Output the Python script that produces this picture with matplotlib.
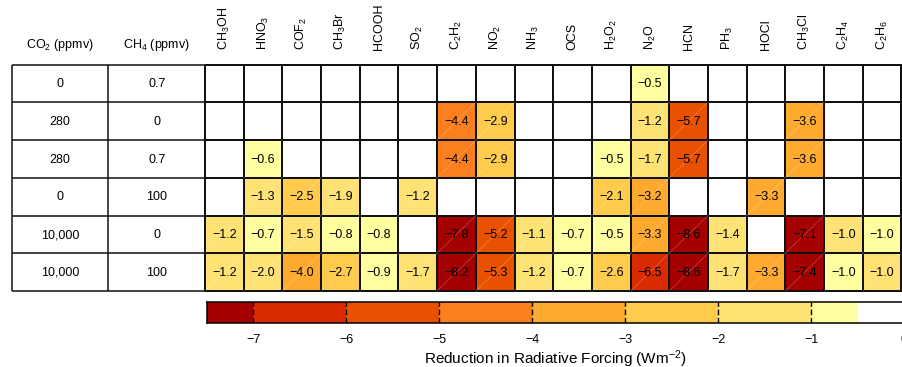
import matplotlib.pyplot as plt
import numpy as np
from matplotlib.colors import ListedColormap, BoundaryNorm

plt.rcParams['font.family'] = ['Liberation Sans', 'DejaVu Sans']
plt.rcParams['mathtext.fontset'] = 'custom'
plt.rcParams['mathtext.rm'] = 'Liberation Sans'
plt.rcParams['mathtext.default'] = 'regular'

gases = ['CH$_3$OH', 'HNO$_3$', 'COF$_2$', 'CH$_3$Br', 'HCOOH', 'SO$_2$',
         'C$_2$H$_2$', 'NO$_2$', 'NH$_3$', 'OCS', 'H$_2$O$_2$', 'N$_2$O',
         'HCN', 'PH$_3$', 'HOCl', 'CH$_3$Cl', 'C$_2$H$_4$', 'C$_2$H$_6$']
co2 = ['0', '280', '280', '0', '10,000', '10,000']
ch4 = ['0.7', '0', '0.7', '100', '0', '100']

nan = np.nan
# forcing reduction (W m-2), one row per CO2/CH4 scenario, nan = no entry
row_0 = [nan, nan, nan, nan, nan, nan, nan, nan, nan, nan, nan, -0.52,
         nan, nan, nan, nan, nan, nan]
row_1 = [nan, nan, nan, nan, nan, nan, -4.4, -2.9, nan, nan, nan, -1.2,
         -5.7, nan, nan, -3.6, nan, nan]
row_2 = [nan, -0.6, nan, nan, nan, nan, -4.4, -2.9, nan, nan, -0.52, -1.7,
         -5.7, nan, nan, -3.6, nan, nan]
row_3 = [nan, -1.3, -2.5, -1.9, nan, -1.2, nan, nan, nan, nan, -2.1, -3.2,
         nan, nan, -3.3, nan, nan, nan]
row_4 = [-1.2, -0.7, -1.5, -0.8, -0.8, nan, -7.8, -5.2, -1.1, -0.7, -0.52, -3.3,
         -8.6, -1.4, nan, -7.1, -1.02, -0.98]
row_5 = [-1.2, -1.98, -3.96, -2.7, -0.9, -1.7, -8.2, -5.3, -1.2, -0.7, -2.6, -6.5,
         -8.6, -1.7, -3.3, -7.4, -0.98, -1.02]
forcing = np.array([row_0, row_1, row_2, row_3, row_4, row_5])

levels = [-10, -7, -6, -5, -4, -3, -2, -1, -0.5, 0]
colors = ['#a50000', '#d92b00', '#e85100', '#fc7f1e', '#feaa2f',
          '#fecb4d', '#fee274', '#ffff9f', '#ffffff']
cmap = ListedColormap(colors)
cmap.set_bad('white')
norm = BoundaryNorm(levels, cmap.N)

W, H = 903, 367
fig = plt.figure(figsize=(W / 100, H / 100), dpi=100)


def box(x0, y0, x1, y1):
    return [x0 / W, 1 - y1 / H, (x1 - x0) / W, (y1 - y0) / H]


nrows, ncols = forcing.shape

# gas columns
ax = fig.add_axes(box(205, 64.5, 901.5, 291))
mesh = ax.pcolormesh(np.ma.masked_invalid(forcing), cmap=cmap, norm=norm,
                     edgecolors='#111111', linewidth=1.1)
mesh.set_clip_on(False)
ax.set_xlim(0, ncols)
ax.set_ylim(nrows, 0)
ax.axis('off')

for i in range(nrows):
    for j in range(ncols):
        v = forcing[i, j]
        if np.isnan(v):
            continue
        ax.plot([j, j + 1], [i + 1, i], color='white', lw=0.4, alpha=0.35)
        ax.text(j + 0.5, i + 0.52, f'{v:.1f}'.replace('-', '\u2212'),
                ha='center', va='center', fontsize=9)

for j, g in enumerate(gases):
    ax.text(j + 0.5, -0.38, g, rotation=90, ha='center', va='bottom',
            fontsize=9, clip_on=False)

# scenario columns
tab = fig.add_axes(box(12, 64.5, 205, 291))
tab.set_xlim(0, 2)
tab.set_ylim(nrows, 0)
tab.axis('off')
tab.hlines(range(nrows + 1), 0, 2, colors='#111111', lw=1.1, clip_on=False)
tab.vlines(range(3), 0, nrows, colors='#111111', lw=1.1, clip_on=False)
for i in range(nrows):
    tab.text(0.5, i + 0.52, co2[i], ha='center', va='center', fontsize=9)
    tab.text(1.5, i + 0.52, ch4[i], ha='center', va='center', fontsize=9)
tab.text(0.5, -0.52, 'CO$_2$ (ppmv)', ha='center', va='center', fontsize=9)
tab.text(1.5, -0.52, 'CH$_4$ (ppmv)', ha='center', va='center', fontsize=9)

# colour scale
bounds = [-7.5, -7, -6, -5, -4, -3, -2, -1, -0.5, 0]
mids = [(a + b) / 2 for a, b in zip(bounds[:-1], bounds[1:])]
cax = fig.add_axes(box(206.7, 302, 904, 323))
cax.pcolormesh(bounds, [0, 1], [mids], cmap=cmap, norm=norm)
cax.vlines(range(-7, 0), 0, 1, colors='k', linestyles=(0, (4, 2)), lw=1)
cax.set_xlim(-7.5, 0)
cax.set_ylim(0, 1)
cax.set_yticks([])
cax.set_xticks(range(-7, 1))
cax.tick_params(axis='x', length=0, pad=8, labelsize=9)
for s in cax.spines.values():
    s.set_linewidth(1.1)
cax.set_xlabel('Reduction in Radiative Forcing (Wm$^{-2}$)', fontsize=11,
               labelpad=2)

fig.savefig('out.png', dpi=100)
